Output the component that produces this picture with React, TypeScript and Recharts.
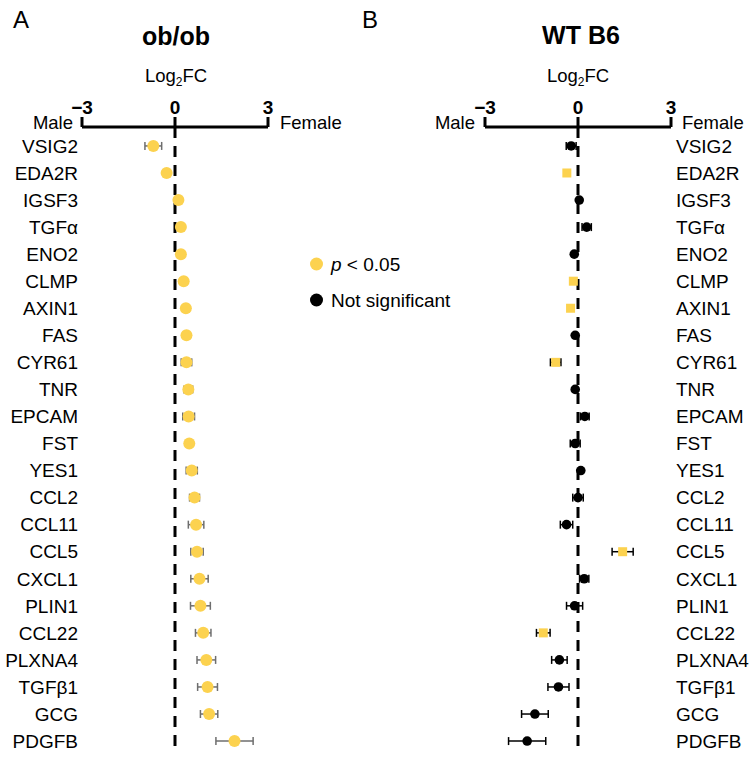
import {
  ScatterChart,
  Scatter,
  XAxis,
  YAxis,
  ErrorBar,
  ReferenceLine,
} from "recharts";

const genes = [
  "VSIG2", "EDA2R", "IGSF3", "TGFα", "ENO2", "CLMP", "AXIN1", "FAS",
  "CYR61", "TNR", "EPCAM", "FST", "YES1", "CCL2", "CCL11", "CCL5",
  "CXCL1", "PLIN1", "CCL22", "PLXNA4", "TGFβ1", "GCG", "PDGFB",
];

// ob/ob log2FC and error (all p < 0.05)
const obFC = [
  -0.7, -0.27, 0.11, 0.19, 0.19, 0.28, 0.35, 0.37, 0.37, 0.43, 0.44, 0.46,
  0.54, 0.63, 0.68, 0.71, 0.79, 0.82, 0.91, 1.01, 1.05, 1.1, 1.92,
];
const obErr = [
  0.27, 0.05, 0, 0.05, 0.03, 0, 0.1, 0.06, 0.17, 0.14, 0.19, 0, 0.18, 0.16,
  0.25, 0.2, 0.28, 0.32, 0.25, 0.3, 0.32, 0.28, 0.6,
];

// WT B6 log2FC, error, significance
const wtFC = [
  -0.22, -0.36, 0.04, 0.28, -0.12, -0.15, -0.24, -0.09, -0.72, -0.09, 0.22,
  -0.09, 0.09, 0.0, -0.37, 1.44, 0.2, -0.11, -1.12, -0.6, -0.63, -1.39, -1.64,
];
const wtErr = [
  0.16, 0, 0, 0.15, 0, 0, 0, 0, 0.17, 0, 0.14, 0.16, 0, 0.17, 0.2, 0.34,
  0.15, 0.26, 0.22, 0.25, 0.34, 0.43, 0.6,
];
const wtSig = [
  false, true, false, false, false, true, true, false, true, false, false,
  false, false, false, false, true, false, false, true, false, false, false,
  false,
];

const xTicks = [-3, 0, 3];

const YELLOW = "#FCD24F";
const FONT = "'Liberation Sans', Arial, sans-serif";

const obData = genes.map((g, i) => ({ gene: g, x: obFC[i], y: i, err: obErr[i] }));
const wtData = genes.map((g, i) => ({ gene: g, x: wtFC[i], y: i, err: wtErr[i], sig: wtSig[i] }));

const yTicks = genes.map((_, i) => i);
const yDomain: [number, number] = [-0.7, 22.33];

const fmtX = (v: number) => (v < 0 ? "\u2212" + Math.abs(v) : String(v));

const Dot = (color: string, r: number) => (props: any) => (
  <circle cx={props.cx} cy={props.cy} r={r} fill={color} />
);
const Square = (color: string, s: number) => (props: any) => (
  <rect x={props.cx - s / 2} y={props.cy - s / 2} width={s} height={s} fill={color} />
);

function Panel({ side }: { side: "left" | "right" }) {
  const isLeft = side === "left";
  const margin = isLeft
    ? { top: 0, right: 108, bottom: 9, left: 0 }
    : { top: 0, right: 0, bottom: 9, left: 109 };
  return (
    <ScatterChart width={isLeft ? 376 : 377} height={759} margin={margin}>
      <XAxis
        type="number"
        dataKey="x"
        orientation="top"
        domain={[-3, 3]}
        ticks={xTicks}
        tickFormatter={fmtX}
        height={127}
        tickSize={10}
        tickMargin={3}
        stroke="#000"
        strokeWidth={3}
        tick={{ fontSize: 19, fontWeight: 700, fill: "#000" }}
      />
      <YAxis
        type="number"
        dataKey="y"
        orientation={isLeft ? "left" : "right"}
        reversed
        domain={yDomain}
        ticks={yTicks}
        interval={0}
        tickFormatter={(i: number) => genes[i] ?? ""}
        width={isLeft ? 82 : 82}
        axisLine={false}
        tickLine={false}
        tickSize={0}
        tickMargin={isLeft ? 4 : 5}
        tick={{ fontSize: 19, fill: "#000" }}
      />
      <ReferenceLine x={0} stroke="#000" strokeWidth={3} strokeDasharray="11 8" />
      {isLeft ? (
        <Scatter data={obData} shape={Dot(YELLOW, 6)} isAnimationActive={false}>
          <ErrorBar dataKey="err" direction="x" width={4} stroke="#6e6e6e" strokeWidth={1.5} />
        </Scatter>
      ) : (
        <>
          <Scatter data={wtData.filter((d) => !d.sig)} shape={Dot("#000", 4.8)} isAnimationActive={false}>
            <ErrorBar dataKey="err" direction="x" width={4} stroke="#000" strokeWidth={1.5} />
          </Scatter>
          <Scatter data={wtData.filter((d) => d.sig)} shape={Square(YELLOW, 9)} isAnimationActive={false}>
            <ErrorBar dataKey="err" direction="x" width={4} stroke="#000" strokeWidth={1.5} />
          </Scatter>
        </>
      )}
    </ScatterChart>
  );
}

export default function App() {
  return (
    <div
      style={{
        position: "absolute",
        left: 0,
        top: 0,
        width: 753,
        height: 759,
        background: "#fff",
        fontFamily: FONT,
      }}
    >
      <div style={{ position: "absolute", left: 0, top: 0 }}>
        <Panel side="left" />
      </div>
      <div style={{ position: "absolute", left: 376, top: 0 }}>
        <Panel side="right" />
      </div>
      <svg
        width={753}
        height={759}
        style={{ position: "absolute", left: 0, top: 0, pointerEvents: "none" }}
        fontFamily={FONT}
      >
        <text x={13} y={28} fontSize={24}>A</text>
        <text x={362} y={28} fontSize={24}>B</text>

        <text x={176} y={45} fontSize={25} fontWeight={700} textAnchor="middle">ob/ob</text>
        <text x={581} y={44} fontSize={25} fontWeight={700} textAnchor="middle">WT B6</text>

        <text x={176} y={82} fontSize={18.5} textAnchor="middle">
          Log<tspan fontSize={12} dy={4}>2</tspan>
          <tspan dy={-4}>FC</tspan>
        </text>
        <text x={578} y={82} fontSize={18.5} textAnchor="middle">
          Log<tspan fontSize={12} dy={4}>2</tspan>
          <tspan dy={-4}>FC</tspan>
        </text>

        <text x={73} y={129} fontSize={18.5} textAnchor="end">Male</text>
        <text x={280} y={129} fontSize={18.5}>Female</text>
        <text x={475} y={129} fontSize={18.5} textAnchor="end">Male</text>
        <text x={682} y={129} fontSize={18.5}>Female</text>

        <circle cx={316.5} cy={264} r={6.5} fill={YELLOW} />
        <text x={331} y={270.5} fontSize={19}>
          <tspan fontStyle="italic">p</tspan> &lt; 0.05
        </text>
        <circle cx={316.5} cy={300} r={6.5} fill="#000" />
        <text x={331} y={306.5} fontSize={19}>Not significant</text>
      </svg>
    </div>
  );
}
